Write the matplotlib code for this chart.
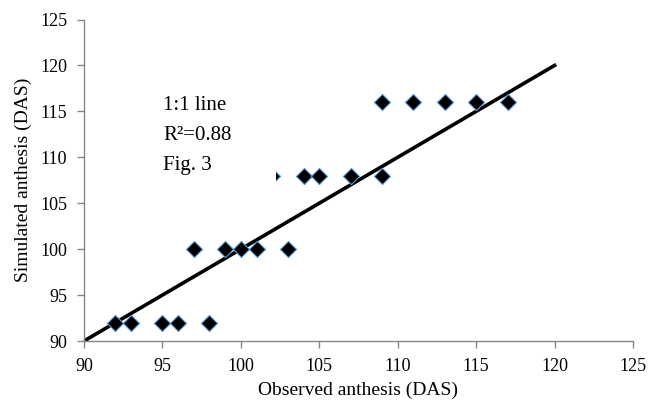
import numpy as np
from matplotlib import pyplot as plt
from matplotlib.patches import Rectangle

# observed vs simulated anthesis, days after sowing
observed = [92, 93, 95, 96, 98,
            97, 99, 100, 101, 103,
            102, 104, 105, 107, 109,
            109, 111, 113, 115, 117]
simulated = [92, 92, 92, 92, 92,
             100, 100, 100, 100, 100,
             108, 108, 108, 108, 108,
             116, 116, 116, 116, 116]
line_x = [90, 120]
line_y = [90, 120]
ticks = [90, 95, 100, 105, 110, 115, 120, 125]

plt.rcParams['font.family'] = ['Liberation Serif', 'DejaVu Serif']

fig = plt.figure(figsize=(6.49, 4.03), dpi=100)
ax = fig.add_axes([84 / 649, 1 - 341 / 403, (633 - 84) / 649, (341 - 19.5) / 403])

ax.plot(line_x, line_y, color='black', lw=2.6, zorder=2)
ax.scatter(observed, simulated, marker='D', s=68, color='black',
           edgecolors='#5b9bd5', linewidths=0.8, zorder=3)

ax.set_xlim(90, 125)
ax.set_ylim(90, 125)
ax.set_xticks(ticks)
ax.set_yticks(ticks)
ax.tick_params(direction='out', length=5, width=1, color='#868686',
               labelsize=13, pad=7)
for side in ['top', 'right']:
    ax.spines[side].set_visible(False)
for side in ['left', 'bottom']:
    ax.spines[side].set_color('#868686')
    ax.spines[side].set_linewidth(1)

ax.set_xlabel('Observed anthesis (DAS)', fontsize=14, labelpad=5)
ax.set_ylabel('Simulated anthesis (DAS)', fontsize=14, labelpad=6)

# white text box sits over part of the scatter
ax.add_patch(Rectangle((94.6, 105.5), 102.22 - 94.6, 13.0, facecolor='white',
                       edgecolor='none', zorder=4))
ax.text(95.05, 116.7, '1:1 line\nR²=0.88\nFig. 3', fontsize=15,
        ha='left', va='top', linespacing=1.78, zorder=5)

fig.savefig('out.png', dpi=100)
